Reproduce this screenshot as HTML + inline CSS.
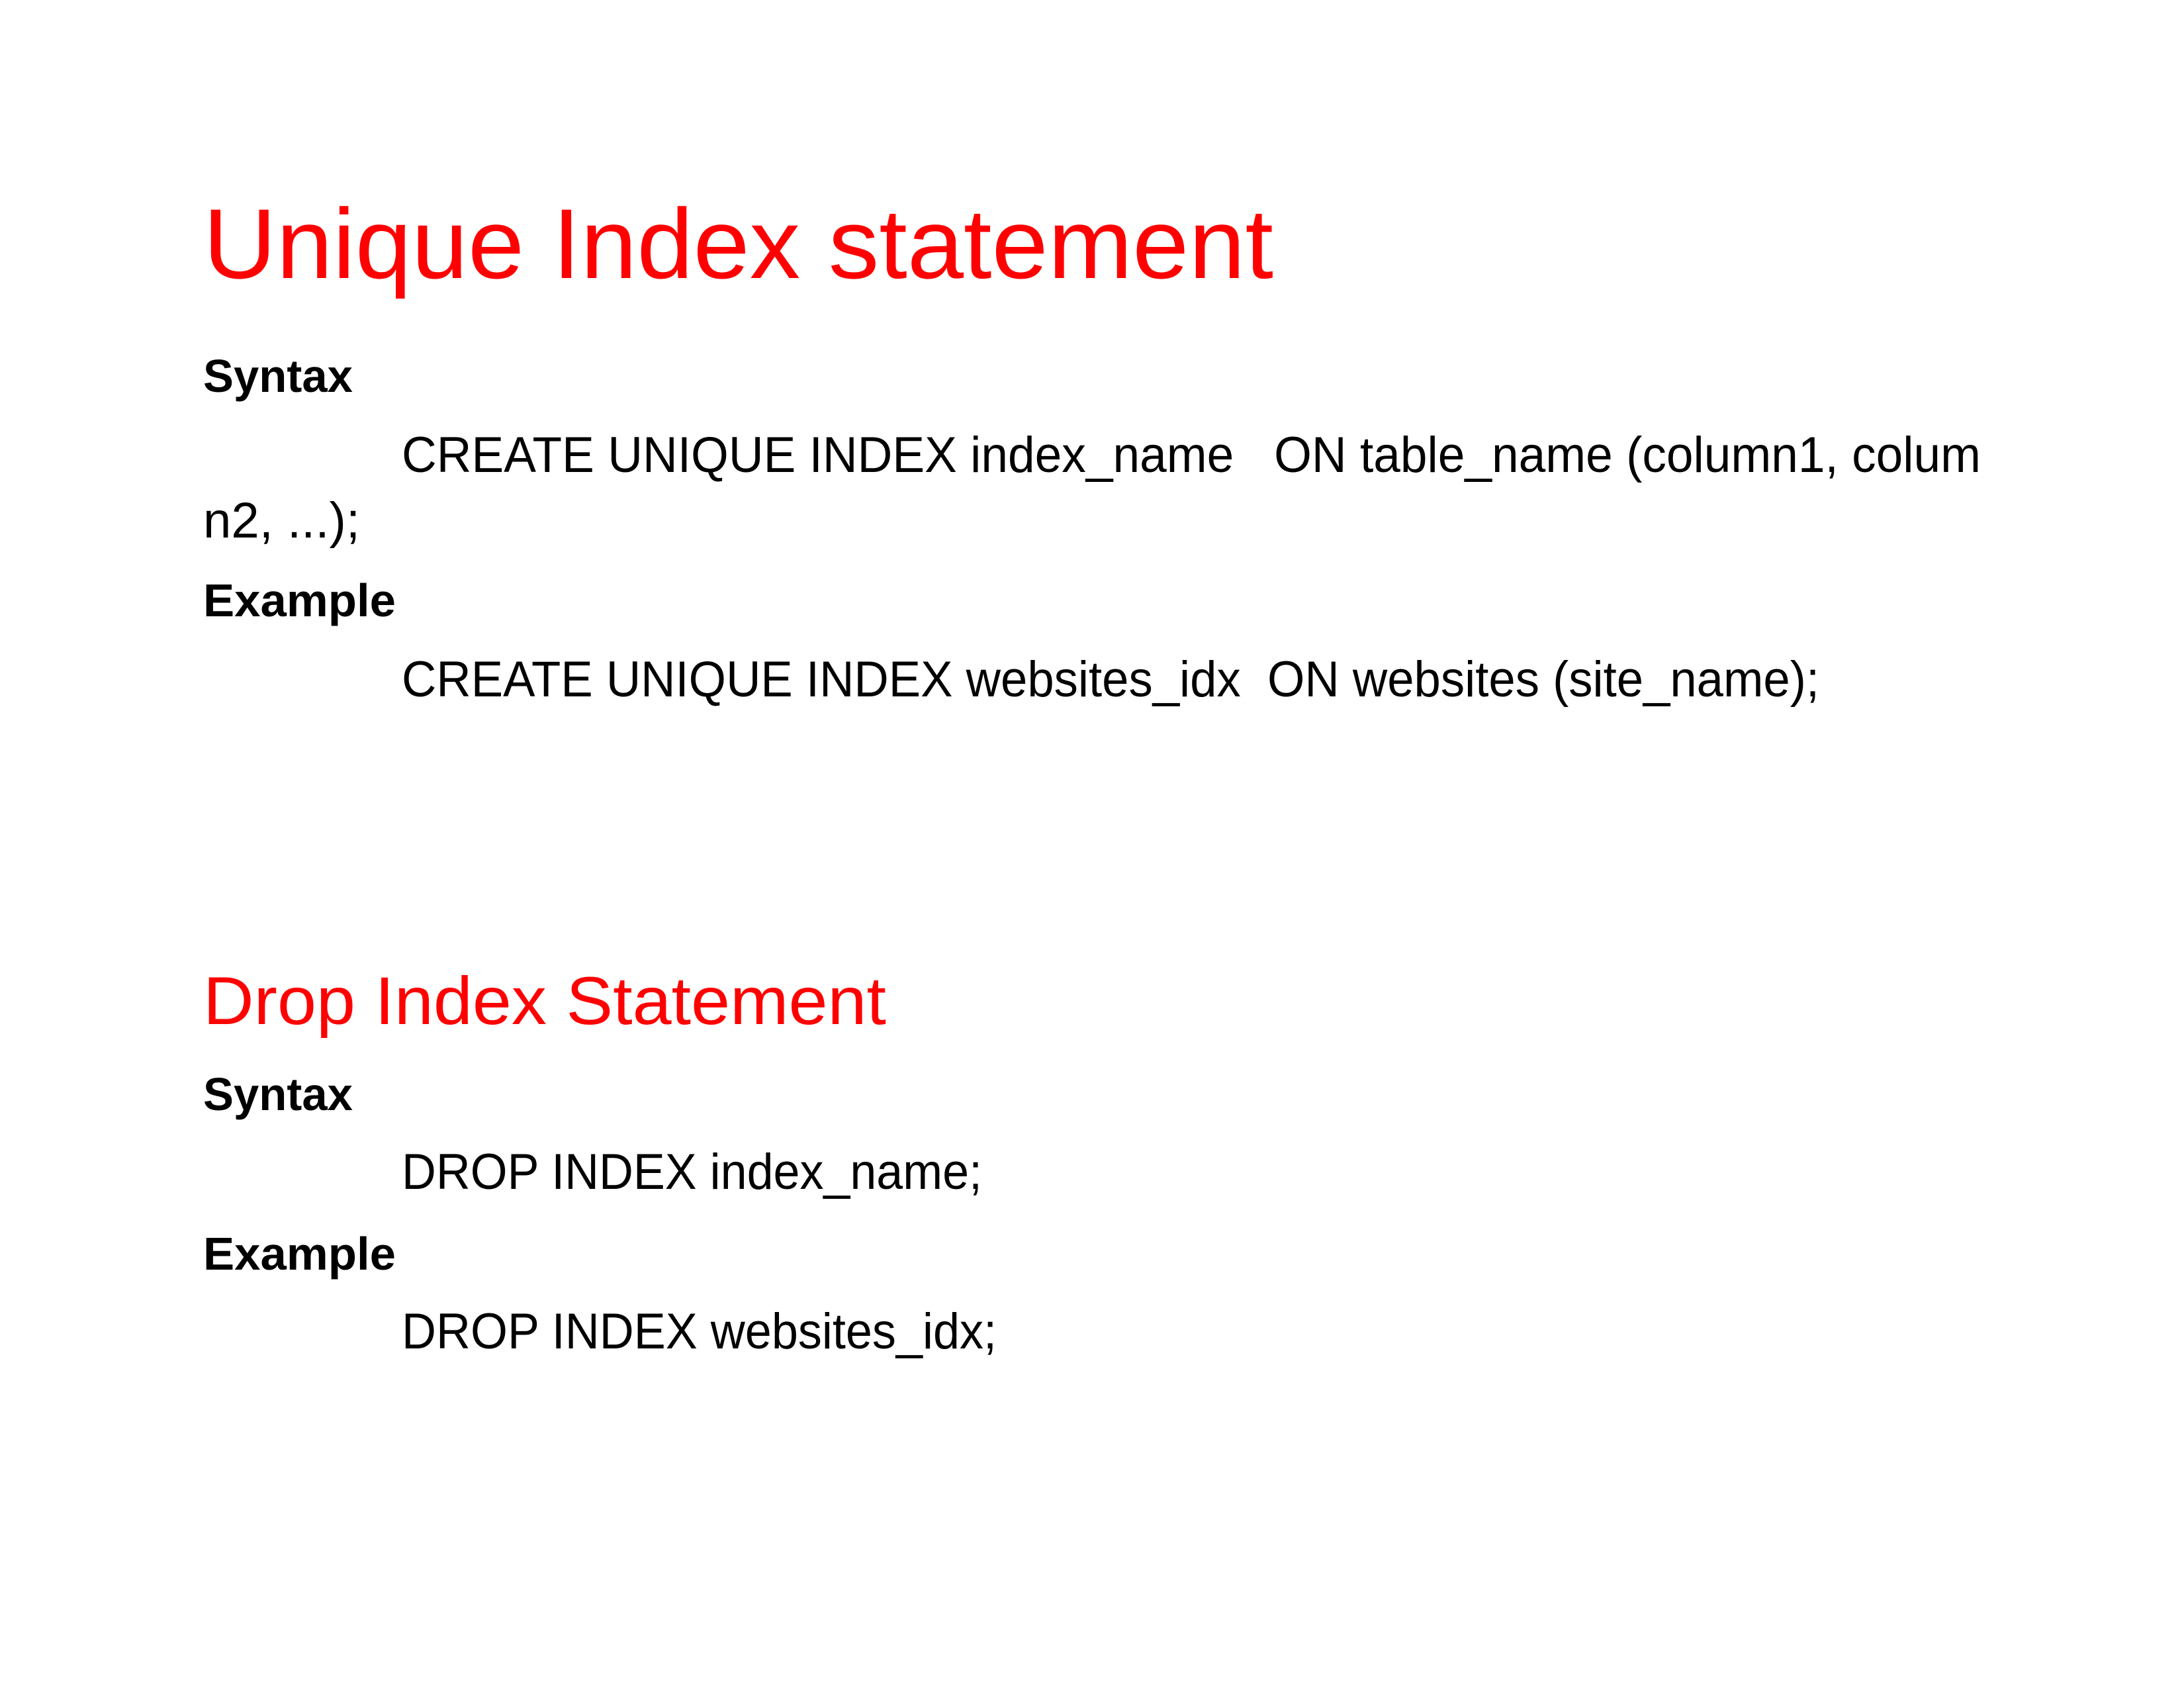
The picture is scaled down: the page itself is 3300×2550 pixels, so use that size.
<!DOCTYPE html>
<html><head><meta charset="utf-8"><style>
html,body{margin:0;padding:0;background:#fff;}
svg{display:block;}
text{font-family:"Liberation Sans",sans-serif;white-space:pre;}
</style></head><body>
<svg width="3300" height="2550" viewBox="0 0 3300 2550" xmlns="http://www.w3.org/2000/svg" xml:space="preserve">
<rect width="3300" height="2550" fill="#fff"/>
<text x="307" y="420" font-size="150" fill="#ff0000" textLength="1617" lengthAdjust="spacingAndGlyphs">Unique Index statement</text>
<text x="307" y="592" font-size="70" font-weight="bold" fill="#000" textLength="226" lengthAdjust="spacingAndGlyphs">Syntax</text>
<text x="607" y="713" font-size="76" fill="#000" textLength="2386" lengthAdjust="spacingAndGlyphs">CREATE UNIQUE INDEX index_name   ON table_name (column1, colum</text>
<text x="307" y="812" font-size="76" fill="#000" textLength="237" lengthAdjust="spacingAndGlyphs">n2, ...);</text>
<text x="307" y="931" font-size="70" font-weight="bold" fill="#000" textLength="291" lengthAdjust="spacingAndGlyphs">Example</text>
<text x="607" y="1052" font-size="76" fill="#000" textLength="2142" lengthAdjust="spacingAndGlyphs">CREATE UNIQUE INDEX websites_idx  ON websites (site_name);</text>
<text x="307" y="1547" font-size="102" fill="#ff0000" textLength="1032" lengthAdjust="spacingAndGlyphs">Drop Index Statement</text>
<text x="307" y="1677" font-size="70" font-weight="bold" fill="#000" textLength="226" lengthAdjust="spacingAndGlyphs">Syntax</text>
<text x="607" y="1796" font-size="76" fill="#000" textLength="877" lengthAdjust="spacingAndGlyphs">DROP INDEX index_name;</text>
<text x="307" y="1918" font-size="70" font-weight="bold" fill="#000" textLength="291" lengthAdjust="spacingAndGlyphs">Example</text>
<text x="607" y="2037" font-size="76" fill="#000" textLength="899" lengthAdjust="spacingAndGlyphs">DROP INDEX websites_idx;</text>
</svg>
</body></html>
